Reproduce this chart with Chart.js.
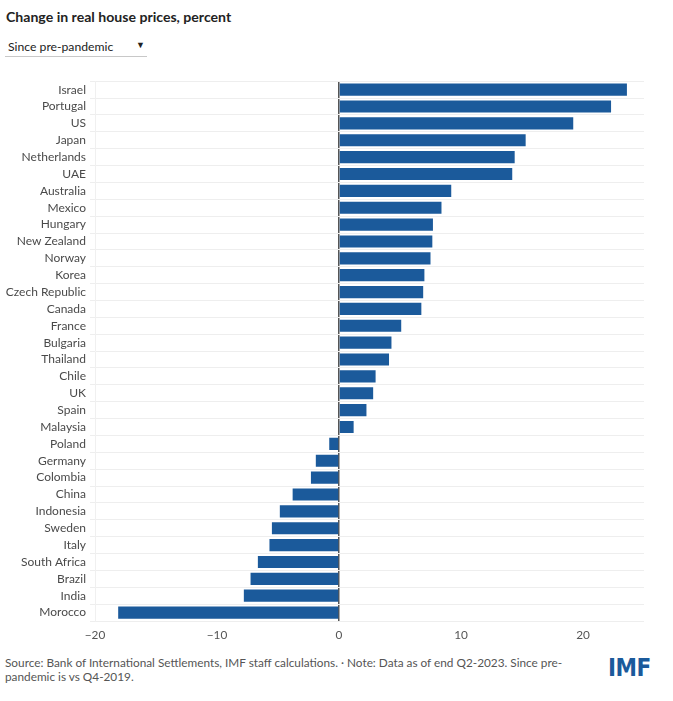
<!DOCTYPE html>
<html>
<head>
<meta charset="utf-8">
<script src="https://cdn.jsdelivr.net/npm/chart.js@4"></script>
<style>
  body { margin: 0; background: #fff; font-family: Lato, "Noto Sans", sans-serif; }
  .title { position: absolute; left: 6px; top: 8px; font-size: 14.1px; font-weight: 700; color: #222; }
  .picker { position: absolute; left: 5px; top: 38px; width: 142px; height: 18px; border-bottom: 1px solid #c8c8c8;
            font-size: 12.2px; color: #222; }
  .picker span { position: absolute; left: 3px; top: 1px; }
  .picker i { position: absolute; right: 2px; top: 1px; font-style: normal; font-size: 9px; }
  .chart-box { position: absolute; left: 0; top: 70px; width: 660px; height: 580px; }
  .footer { position: absolute; left: 5px; top: 656px; width: 580px; font-size: 11.8px; line-height: 14px; color: #555; }
  .logo { position: absolute; left: 608px; top: 654px; font-family: "Liberation Sans Narrow", "DejaVu Sans Condensed", sans-serif;
          font-weight: 700; font-size: 24px; color: #1b5a9b; letter-spacing: -0.5px; }
</style>
</head>
<body>
<div class="title">Change in real house prices, percent</div>
<div class="picker"><span>Since pre-pandemic</span><i>&#9660;</i></div>
<div class="chart-box"><canvas id="houseChart"></canvas></div>
<div class="footer">Source: Bank of International Settlements, IMF staff calculations. · Note: Data as of end Q2-2023. Since pre-<br>pandemic is vs Q4-2019.</div>
<div class="logo">IMF</div>
<script>
  // 国家和数值
  const countries = ['Israel', 'Portugal', 'US', 'Japan', 'Netherlands', 'UAE', 'Australia', 'Mexico', 'Hungary',
    'New Zealand', 'Norway', 'Korea', 'Czech Republic', 'Canada', 'France', 'Bulgaria', 'Thailand', 'Chile', 'UK',
    'Spain', 'Malaysia', 'Poland', 'Germany', 'Colombia', 'China', 'Indonesia', 'Sweden', 'Italy', 'South Africa',
    'Brazil', 'India', 'Morocco'];
  const priceChange = [23.6, 22.3, 19.2, 15.3, 14.4, 14.2, 9.2, 8.4, 7.7,
    7.65, 7.5, 7.0, 6.9, 6.75, 5.1, 4.3, 4.1, 3.0, 2.8,
    2.25, 1.2, -0.8, -1.9, -2.3, -3.8, -4.85, -5.5, -5.7, -6.65,
    -7.25, -7.8, -18.1];
  const xTicks = [-20, -10, 0, 10, 20];
</script>
<script>
  const barColor = '#1b5a9b';

  const config = {
    type: 'bar',
    data: {
      labels: countries,
      datasets: [{
        data: priceChange,
        backgroundColor: barColor,
        borderWidth: 0,
        barPercentage: 0.72,
        categoryPercentage: 1
      }]
    },
    options: {
      indexAxis: 'y',
      responsive: true,
      maintainAspectRatio: false,
      animation: false,
      layout: { padding: { top: 10, right: 16 } },
      plugins: { legend: { display: false }, tooltip: { enabled: false } },
      scales: {
        x: {
          min: -20,
          max: 25,
          afterBuildTicks: function(scale) {
            scale.ticks = xTicks.map(v => ({ value: v }));
          },
          afterFit: function(scale) { scale.height = 29; },
          border: { display: false },
          grid: {
            drawTicks: false,
            color: ctx => (ctx.tick && ctx.tick.value === 0) ? '#555' : 'rgba(0,0,0,0)',
            lineWidth: 1.5
          },
          ticks: {
            padding: 7,
            color: '#555',
            font: { family: 'Lato', size: 11.8 },
            callback: v => v < 0 ? '\u2212' + Math.abs(v) : v
          }
        },
        y: {
          afterFit: function(scale) { scale.width = 95; },
          border: { display: true, color: '#f0f0f0' },
          grid: { color: '#eeeeee', tickLength: 5 },
          ticks: {
            padding: 4,
            color: '#4a4a4a',
            font: { family: 'Lato', size: 12 },
            autoSkip: false
          }
        }
      }
    }
  };

  const myChart = new Chart(document.getElementById('houseChart'), config);
</script>
</body>
</html>
